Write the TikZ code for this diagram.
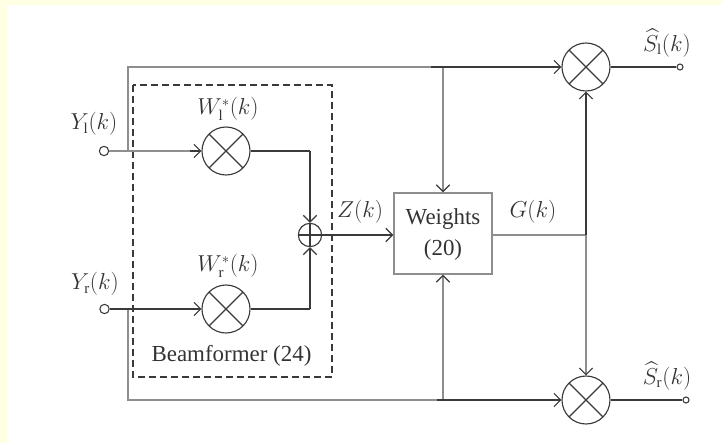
\documentclass[tikz,border=0pt]{standalone}
\usepackage{fontspec}
\usepackage{amsmath}
\setmainfont{Liberation Serif}
\usetikzlibrary{arrows.meta}
\definecolor{pageyellow}{HTML}{FFFFE3}
\definecolor{inkdark}{HTML}{3A3A3A}
\definecolor{inkgrey}{HTML}{8E8E8E}
\tikzset{
  x=0.75pt,y=-0.75pt,
  dk/.style={draw=inkdark,line width=0.85pt},
  gy/.style={draw=inkgrey,line width=1.05pt},
  tip/.style={-{Straight Barb[length=5pt,width=10pt,line width=0.85pt,color=inkdark]}},
  mult/.style={circle,draw=inkdark,line width=0.85pt,minimum size=36pt,inner sep=0pt,fill=white,
    path picture={
      \draw[inkdark,line width=0.85pt] (path picture bounding box.north west)--(path picture bounding box.south east)
        (path picture bounding box.north east)--(path picture bounding box.south west);}},
  adder/.style={circle,draw=inkdark,line width=0.85pt,minimum size=17.5pt,inner sep=0pt,fill=white,
    path picture={
      \draw[inkdark,line width=0.85pt] (path picture bounding box.north)--(path picture bounding box.south)
        (path picture bounding box.east)--(path picture bounding box.west);}},
  inport/.style={circle,draw=inkdark,line width=0.8pt,minimum size=7pt,inner sep=0pt,fill=white},
  outport/.style={circle,draw=inkdark,line width=0.8pt,minimum size=4.5pt,inner sep=0pt,fill=white},
  lab/.style={inner sep=0pt,text=black!80,font=\fontsize{16}{18}\selectfont},
  textlab/.style={inner sep=0pt,text=black!80,font=\fontsize{17.2}{19}\selectfont},
  weightbox/.style={rectangle,draw=inkgrey,line width=1.05pt,minimum width=73.5pt,minimum height=60.75pt,inner sep=0pt,fill=white},
  beambox/.style={draw=inkdark,line width=0.8pt,dash pattern=on 5.25pt off 3pt}
}
\begin{document}
\begin{tikzpicture}
\useasboundingbox (0,0) rectangle (722,443);
\fill[pageyellow] (0,0) rectangle (722,443);
\fill[white] (7,5) rectangle (722,443);

\draw[beambox] (133,85) rectangle (332,377);

\node[inport] (yl) at (104,151) {};
\node[inport] (yr) at (104.5,309) {};
\node[mult] (ml) at (226,151) {};
\node[mult] (mr) at (226,309) {};
\node[adder] (add) at (310,235) {};
\node[weightbox] (w) at (443,233.5) {};
\node[mult] (st) at (586,67) {};
\node[mult] (sb) at (586,400) {};
\node[outport] (ot) at (680,67) {};
\node[outport] (ob) at (686,400) {};

\coordinate (jl) at (128,151);
\coordinate (jr) at (128,309);
\coordinate (tl) at (128,67);
\coordinate (bl) at (128,400);
\coordinate (tb) at (443,67);
\coordinate (bb) at (443,400);
\coordinate (tg) at (431,67);
\coordinate (bg) at (437,400);
\coordinate (gj) at (586,235);
\coordinate (al) at (310,151);
\coordinate (ar) at (310,309);
\coordinate (lg) at (190,151);

% grey feed lines
\draw[gy] (jl) -- (tl) -- (tg);
\draw[gy] (jr) -- (bl) -- (bg);
\draw[gy] (yl) -- (lg);
\draw[gy,tip] (tb) -- (w.north);
\draw[gy,tip] (bb) -- (w.south);
\draw[gy] (w.east |- gj) -- (gj);
\draw[gy,tip] (gj) -- (sb.north);

% dark signal lines
\draw[dk,tip] (lg) -- (ml.west);
\draw[dk,tip] (yr) -- (mr.west);
\draw[dk] (ml.east) -- (al);
\draw[dk,tip] (al) -- (add.north);
\draw[dk] (mr.east) -- (ar);
\draw[dk,tip] (ar) -- (add.south);
\draw[dk,tip] (add.east) -- (w.west |- add);
\draw[dk,tip] (tg) -- (st.west);
\draw[dk,tip] (bg) -- (sb.west);
\draw[dk,tip] (gj) -- (st.south);
\draw[dk] (st.east) -- (ot);
\draw[dk] (sb.east) -- (ob);

% labels
\node[lab] (tyl) at (94,124) {$Y_{\mathrm{l}}(k)$};
\node[lab] (tyr) at (95,284) {$Y_{\mathrm{r}}(k)$};
\node[lab] (twl) at (228,109) {$W_{\mathrm{l}}^{*}(k)$};
\node[lab] (twr) at (228,266) {$W_{\mathrm{r}}^{*}(k)$};
\node[textlab] (tbf) at (231.5,356) {Beamformer (24)};
\node[lab] (tz) at (360,212) {$Z(k)$};
\node[lab] (tg1) at (533,212) {$G(k)$};
\node[textlab] (tw1) at (443,219) {Weights};
\node[textlab] (tw2) at (443,250) {(20)};
\node[lab] (tsl) at (667,43) {$\widehat{S}_{\mathrm{l}}(k)$};
\node[lab] (tsr) at (667,376) {$\widehat{S}_{\mathrm{r}}(k)$};
\end{tikzpicture}
\end{document}
